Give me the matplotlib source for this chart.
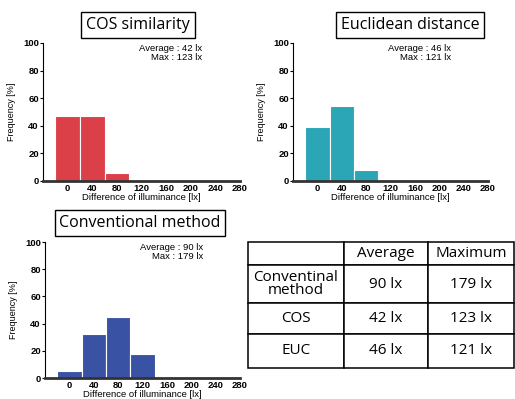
import matplotlib
matplotlib.use('Agg')
import matplotlib.pyplot as plt

# histogram data (bins centred on the tick values)
bin_centres = [0, 40, 80, 120, 160, 200, 240]
cos_freq = [47, 47, 6, 0.5, 0, 0, 0]
euc_freq = [39, 54, 8, 0.5, 0, 0, 0]
conv_freq = [5.5, 32.5, 44.5, 17.5, 1, 0, 0]

x_ticks = [0, 40, 80, 120, 160, 200, 240, 280]
y_ticks = [0, 20, 40, 60, 80, 100]

# summary numbers
cos_avg, cos_max = 42, 123
euc_avg, euc_max = 46, 121
conv_avg, conv_max = 90, 179

table_cols = ['', 'Average', 'Maximum']
table_rows = [['Conventinal\nmethod', '90 lx', '179 lx'],
              ['COS', '42 lx', '123 lx'],
              ['EUC', '46 lx', '121 lx']]

W, H = 515, 399
fig = plt.figure(figsize=(W / 100, H / 100), dpi=100)

tick_font = 'Liberation Sans'
title_font = 'Open Sans'


def px_axes(l, t, r, b):
    # axes from pixel box (left, top, right, bottom)
    return fig.add_axes([l / W, 1 - b / H, (r - l) / W, (b - t) / H])


def hist_panel(ax, freq, color, avg, mx):
    ax.bar(bin_centres, freq, width=40, color=color, edgecolor='white', linewidth=0.8)
    ax.set_xlim(-40, 280)
    ax.set_ylim(0, 100)
    ax.set_xticks(x_ticks)
    ax.set_yticks(y_ticks)
    for s in ['top', 'right']:
        ax.spines[s].set_visible(False)
    ax.spines['bottom'].set_linewidth(2)
    ax.spines['bottom'].set_color('#333333')
    ax.spines['left'].set_linewidth(0.8)
    ax.tick_params(axis='x', length=0, pad=2)
    ax.tick_params(axis='y', length=2, width=0.8, pad=1)
    for lab in ax.get_xticklabels() + ax.get_yticklabels():
        lab.set_fontfamily(tick_font)
        lab.set_fontweight('bold')
        lab.set_fontsize(6.8)
    ax.set_ylabel('Frequency [%]', fontsize=6.5, family=tick_font, labelpad=5)
    ax.set_xlabel('Difference of illuminance [lx]', fontsize=6.8, family=tick_font,
                  labelpad=0)
    ax.text(0.81, 0.99, f'Average : {avg} lx\nMax : {mx} lx', transform=ax.transAxes,
            ha='right', va='top', fontsize=6.8, family=tick_font, linespacing=0.95)


def boxed_title(cx, cy, text):
    fig.text(cx / W, 1 - cy / H, text, ha='center', va='center', fontsize=11.5,
             family=title_font,
             bbox=dict(boxstyle='square,pad=0.3', facecolor='white',
                       edgecolor='black', linewidth=1))


ax1 = px_axes(43, 43, 240, 181)
hist_panel(ax1, cos_freq, '#db3f48', cos_avg, cos_max)
boxed_title(138, 25, 'COS similarity')

ax2 = px_axes(293, 43, 488, 181)
hist_panel(ax2, euc_freq, '#2aa6b6', euc_avg, euc_max)
boxed_title(410, 25, 'Euclidean distance')

ax3 = px_axes(45, 242, 240, 378)
hist_panel(ax3, conv_freq, '#3a52a4', conv_avg, conv_max)
boxed_title(140, 223, 'Conventional method')

# summary table
axt = px_axes(248, 242, 514, 368)
axt.axis('off')
tbl = axt.table(cellText=table_rows, colLabels=table_cols, cellLoc='center',
                bbox=[0, 0, 1, 1])
tbl.auto_set_font_size(False)
col_w = [96, 84, 86]
row_h = [23, 38, 31, 34]
for (r, c), cell in tbl.get_celld().items():
    cell.set_width(col_w[c])
    cell.set_height(row_h[r])
    cell.set_linewidth(1.1)
    cell.get_text().set_fontsize(11)
    cell.get_text().set_fontfamily(title_font)
    if r > 0 and c == 0:
        cell.get_text().set_linespacing(0.85)

fig.savefig('out.png', dpi=100)
